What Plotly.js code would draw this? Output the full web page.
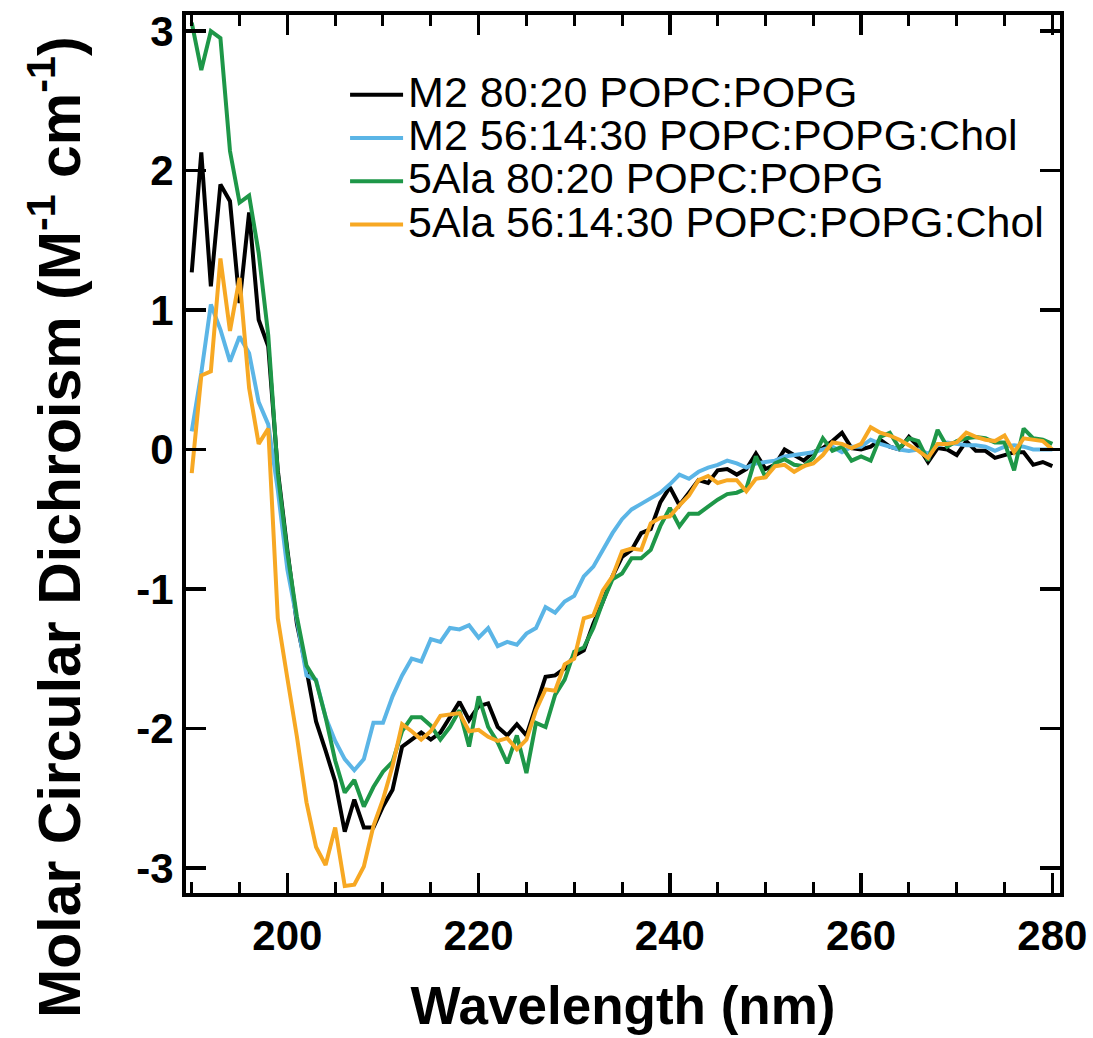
<!DOCTYPE html>
<html>
<head>
<meta charset="utf-8">
<script src="https://cdn.plot.ly/plotly-3.0.1.min.js"></script>
<style>html,body{margin:0;padding:0;background:#fff;}#chart{width:1093px;height:1038px;}</style>
</head>
<body>
<div id="chart"></div>
<script>
// Wavelength grid (nm), 1 nm steps
const wavelength = [];
for (let w = 190; w <= 280; w++) wavelength.push(w);

const seriesNames = [
  "M2 80:20 POPC:POPG",
  "M2 56:14:30 POPC:POPG:Chol",
  "5Ala 80:20 POPC:POPG",
  "5Ala 56:14:30 POPC:POPG:Chol"
];

// M2 80:20 POPC:POPG (black)
const m2_8020 = [
  1.27, 2.13, 1.17, 1.90, 1.78, 1.05, 1.70, 0.93, 0.74, -0.15,
  -0.72, -1.25, -1.58, -1.95, -2.16, -2.38, -2.74, -2.51, -2.71, -2.71,
  -2.56, -2.44, -2.13, -2.08, -2.03, -2.08, -2.03, -1.92, -1.81, -1.94,
  -1.84, -1.82, -1.99, -2.05, -1.97, -2.05, -1.84, -1.63, -1.62, -1.57,
  -1.48, -1.44, -1.25, -1.09, -0.91, -0.77, -0.72, -0.60, -0.57, -0.38,
  -0.27, -0.40, -0.31, -0.22, -0.24, -0.15, -0.14, -0.18, -0.14, -0.03,
  -0.14, -0.11, 0.00, -0.04, -0.08, -0.02, 0.01, 0.06, 0.12, 0.01,
  0.00, 0.02, 0.07, 0.02, 0.00, 0.09, 0.02, -0.09, 0.01, 0.00,
  -0.04, 0.06, -0.01, -0.01, -0.06, -0.04, -0.02, -0.02, -0.11, -0.09,
  -0.12
];

// M2 56:14:30 POPC:POPG:Chol (blue)
const m2_chol = [
  0.13, 0.55, 1.04, 0.86, 0.63, 0.81, 0.69, 0.34, 0.18, -0.29,
  -0.86, -1.22, -1.62, -1.65, -1.92, -2.09, -2.22, -2.30, -2.22, -1.96,
  -1.96, -1.77, -1.62, -1.50, -1.52, -1.36, -1.38, -1.28, -1.29, -1.26,
  -1.35, -1.28, -1.41, -1.38, -1.40, -1.32, -1.28, -1.13, -1.17, -1.09,
  -1.05, -0.91, -0.84, -0.72, -0.60, -0.50, -0.43, -0.39, -0.35, -0.31,
  -0.25, -0.18, -0.21, -0.16, -0.13, -0.11, -0.08, -0.10, -0.13, -0.10,
  -0.09, -0.08, -0.05, -0.04, -0.03, -0.02, 0.00, 0.02, -0.02, 0.02,
  0.02, 0.07, 0.04, 0.02, 0.00, -0.01, 0.00, -0.03, 0.03, 0.05,
  0.04, 0.03, 0.03, 0.02, -0.01, 0.02, 0.03, 0.02, 0.00, 0.00,
  0.00
];

// 5Ala 80:20 POPC:POPG (green)
const ala_8020 = [
  3.06, 2.72, 3.00, 2.95, 2.14, 1.77, 1.82, 1.41, 0.82, -0.17,
  -0.74, -1.20, -1.55, -1.66, -1.92, -2.23, -2.46, -2.37, -2.56, -2.42,
  -2.31, -2.24, -2.02, -1.92, -1.92, -1.98, -2.08, -1.99, -1.87, -2.13,
  -1.77, -1.99, -2.10, -2.25, -2.05, -2.32, -1.96, -1.99, -1.76, -1.65,
  -1.45, -1.42, -1.28, -1.09, -0.93, -0.89, -0.78, -0.78, -0.72, -0.55,
  -0.42, -0.55, -0.46, -0.46, -0.41, -0.36, -0.32, -0.31, -0.28, -0.05,
  -0.20, -0.10, -0.07, -0.11, -0.12, -0.06, 0.08, -0.01, 0.02, -0.08,
  -0.05, -0.08, 0.09, 0.12, 0.01, 0.08, 0.06, -0.08, 0.14, 0.02,
  0.06, 0.08, 0.09, 0.08, 0.05, 0.05, -0.15, 0.15, 0.08, 0.07,
  0.04
];

// 5Ala 56:14:30 POPC:POPG:Chol (orange)
const ala_chol = [
  -0.17, 0.53, 0.56, 1.37, 0.85, 1.23, 0.44, 0.04, 0.15, -1.21,
  -1.64, -2.06, -2.53, -2.85, -2.98, -2.71, -3.13, -3.12, -2.99, -2.70,
  -2.51, -2.27, -1.97, -2.02, -2.08, -2.02, -1.91, -1.90, -1.89, -2.02,
  -2.01, -2.06, -2.09, -2.07, -2.15, -2.08, -1.87, -1.72, -1.73, -1.54,
  -1.50, -1.21, -1.19, -1.01, -0.91, -0.73, -0.71, -0.72, -0.53, -0.49,
  -0.48, -0.40, -0.33, -0.22, -0.19, -0.24, -0.22, -0.22, -0.30, -0.21,
  -0.20, -0.12, -0.11, -0.16, -0.12, -0.10, -0.04, 0.05, 0.04, 0.01,
  0.04, 0.16, 0.12, 0.10, 0.07, 0.03, -0.01, -0.06, 0.04, 0.04,
  0.05, 0.12, 0.09, 0.07, 0.06, 0.10, -0.02, 0.08, 0.07, 0.06,
  0.00
];

const xTickVals = [200, 220, 240, 260, 280];
const yTickVals = [-3, -2, -1, 0, 1, 2, 3];
const xTitle = "Wavelength (nm)";
const yTitle = "Molar Circular Dichroism (M<sup>-1</sup> cm<sup>-1</sup>)";

const seriesValues = [m2_8020, m2_chol, ala_8020, ala_chol];
const colors = ["#000000", "#5BB5E6", "#1E9748", "#F7A823"];

const FONT = "Liberation Sans, Arial, Helvetica, sans-serif";

const traces = seriesValues.map((vals, i) => ({
  type: "scatter",
  mode: "lines",
  x: wavelength,
  y: vals,
  name: '<span style="font-size:43px">' + seriesNames[i] + '</span>',
  line: {color: colors[i], width: 4}
}));

const axisCommon = {
  showline: true, linecolor: "#000", linewidth: 4, mirror: "ticks",
  ticks: "inside", tickcolor: "#000", tickwidth: 3.5, ticklen: 20,
  showgrid: false, zeroline: false,
  tickfont: {family: FONT, size: 42, color: "#000", weight: "bold"}
};

const layout = {
  width: 1093, height: 1038,
  margin: {l: 186, r: 33, t: 15, b: 145},
  paper_bgcolor: "#fff", plot_bgcolor: "#fff",
  font: {family: FONT, color: "#000"},
  showlegend: true,
  legend: {
    x: 0.182, y: 0.9396, xanchor: "left", yanchor: "top",
    bgcolor: "rgba(0,0,0,0)", borderwidth: 0,
    font: {family: FONT, size: 31, color: "#000"},
    itemwidth: 53
  },
  xaxis: Object.assign({}, axisCommon, {
    range: [189.4, 280.8],
    tickmode: "array", tickvals: xTickVals, ticktext: xTickVals.map(String),
    ticklabelstandoff: 3,
    minor: {dtick: 5, tick0: 190, ticks: "inside", ticklen: 11, tickwidth: 3, tickcolor: "#000", showgrid: false},
    title: {text: xTitle, font: {family: FONT, size: 53, weight: "bold", color: "#000"}, standoff: 29}
  }),
  yaxis: Object.assign({}, axisCommon, {
    range: [-3.18, 3.115],
    tickmode: "array", tickvals: yTickVals, ticktext: yTickVals.map(String),
    ticklabelstandoff: 0
  }),
  annotations: [{
    text: yTitle, textangle: -90, showarrow: false,
    xref: "paper", yref: "paper", x: -0.1487, y: 0.417,
    xanchor: "center", yanchor: "middle",
    font: {family: FONT, size: 59, weight: "bold", color: "#000"}
  }]
};

Plotly.newPlot("chart", traces, layout, {displayModeBar: false, staticPlot: true});
</script>
</body>
</html>
